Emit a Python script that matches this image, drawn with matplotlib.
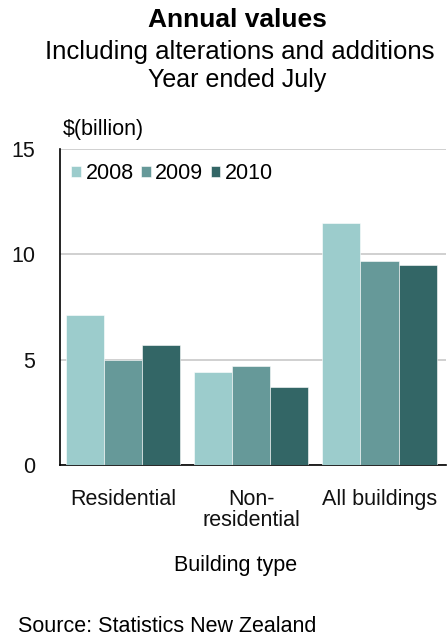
import matplotlib.pyplot as plt
import numpy as np

plt.rcParams['font.family'] = ['Liberation Sans', 'DejaVu Sans']

categories = ["Residential", "Non-\nresidential", "All buildings"]
years = ["2008", "2009", "2010"]
v2008 = [7.1, 4.4, 11.5]
v2009 = [5.0, 4.7, 9.7]
v2010 = [5.7, 3.7, 9.5]
colors = ["#9ccccc", "#669999", "#336666"]

fig = plt.figure(figsize=(4.48, 6.37), dpi=100)
ax = fig.add_axes([0.134, 0.270, 0.862, 0.496])

x = np.arange(len(categories))
w = 0.297
for i, (vals, yr) in enumerate(zip([v2008, v2009, v2010], years)):
    ax.bar(x + (i - 1) * w, vals, width=w, color=colors[i], label=yr,
           edgecolor="white", linewidth=0.4, zorder=3)

ax.set_ylim(0, 15)
ax.set_xlim(-0.49, 2.52)
ax.set_yticks([0, 5, 10, 15])
ax.yaxis.grid(True, color="#c8c8c8", linewidth=1.2, zorder=0)
ax.set_xticks(x)
ax.set_xticklabels(categories, fontsize=15.5, linespacing=1.05)
ax.tick_params(axis="both", length=0, labelsize=15.5, colors="#111111")
ax.tick_params(axis="y", pad=18)
ax.tick_params(axis="x", pad=17)
for s in ["top", "right"]:
    ax.spines[s].set_visible(False)
ax.spines["left"].set_linewidth(1.2)
ax.spines["bottom"].set_linewidth(1.2)

ax.legend(loc="upper left", bbox_to_anchor=(-0.015, 1.01), ncol=3,
          frameon=False, fontsize=15.5, handlelength=0.45, handleheight=0.45,
          handletextpad=0.2, columnspacing=0.35, borderpad=0.3)

fig.text(0.53, 0.968, "Annual values", ha="center", va="center",
         fontsize=19, fontweight="bold")
fig.text(0.535, 0.918, "Including alterations and additions", ha="center",
         va="center", fontsize=18.5)
fig.text(0.53, 0.874, "Year ended July", ha="center", va="center", fontsize=18)
fig.text(0.14, 0.796, "$(billion)", ha="left", va="center", fontsize=15.5)
fig.text(0.525, 0.112, "Building type", ha="center", va="center",
         fontsize=15.5)
fig.text(0.04, 0.016, "Source: Statistics New Zealand", ha="left",
         va="center", fontsize=15.5)

fig.savefig("out.png", dpi=100)
